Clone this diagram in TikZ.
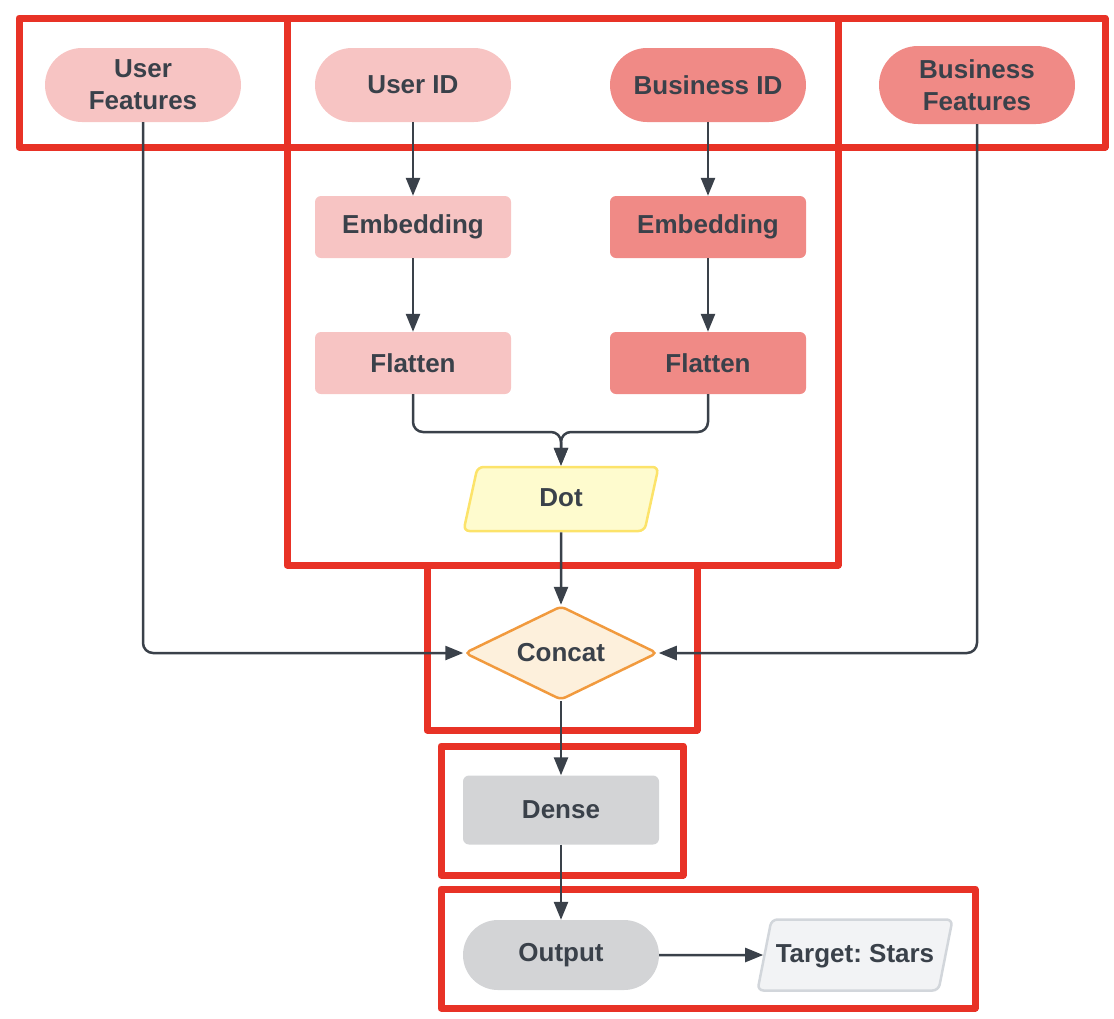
\documentclass[tikz,border=0pt]{standalone}
\usepackage{fontspec}
\setmainfont{Liberation Sans}
\usepackage{tikz}
\usetikzlibrary{shapes.geometric,arrows.meta}

\definecolor{ink}{HTML}{3A414A}
\definecolor{frame}{HTML}{E83226}
\definecolor{pinklight}{HTML}{F7C4C3}
\definecolor{pinkdark}{HTML}{F08A86}
\definecolor{dotfill}{HTML}{FEFBCE}
\definecolor{dotline}{HTML}{FCE36A}
\definecolor{catfill}{HTML}{FDF0DC}
\definecolor{catline}{HTML}{F19A3E}
\definecolor{grayfill}{HTML}{D3D4D6}
\definecolor{tgtfill}{HTML}{F2F3F5}
\definecolor{tgtline}{HTML}{D2D6DB}

\frenchspacing

\begin{document}
\begin{tikzpicture}[x=1pt,y=-1pt,
		every node/.style={font=\bfseries\fontsize{26}{32}\selectfont, text=ink, align=center},
		base/.style={minimum width=196pt, inner sep=0pt},
		pill/.style={base, rounded corners=37pt, minimum height=74pt},
		box/.style={base, rounded corners=6pt, minimum height=62pt},
		para/.style={trapezium, trapezium left angle=65, trapezium right angle=115,
			trapezium stretches body, minimum width=195pt, inner sep=2pt,
			text height=20pt, text depth=6pt,
			rounded corners=6pt, line width=2.5pt},
		arr/.style={line width=2.5pt, draw=ink, rounded corners=10pt,
			-{Triangle[length=18pt,width=14pt]}},
		redbox/.style={line width=7pt, draw=frame, line join=round}
	]
		\useasboundingbox (0,0) rectangle (1114,1018);

		% frames
		\draw[redbox] (19,18) rectangle (287,147);
		\draw[redbox] (287,18) rectangle (838,147);
		\draw[redbox] (287,147) rectangle (838,565);
		\draw[redbox] (838,18) rectangle (1105,147);
		\draw[redbox] (427,565) rectangle (697,730);
		\draw[redbox] (441,746) rectangle (683,875);
		\draw[redbox] (441,889) rectangle (975,1008);

		% inputs
		\node[pill, fill=pinklight] (uf) at (143,85) {User\\Features};
		\node[pill, fill=pinklight] (uid) at (413,85) {User ID};
		\node[pill, fill=pinkdark] (bid) at (708,85) {Business ID};
		\node[pill, fill=pinkdark, minimum height=78pt, rounded corners=39pt] (bf) at (977,85) {Business\\Features};

		% towers
		\node[box, fill=pinklight] (e1) at (413,227) {Embedding};
		\node[box, fill=pinklight] (f1) at (413,363) {Flatten};
		\node[box, fill=pinkdark] (e2) at (708,227) {Embedding};
		\node[box, fill=pinkdark] (f2) at (708,363) {Flatten};

		\node[para, fill=dotfill, draw=dotline, minimum height=64pt] (dot) at (561,499) {Dot};
		\node[diamond, aspect=2, minimum width=193pt, minimum height=94pt, inner sep=0pt,
			fill=catfill, draw=catline, line width=2.5pt, rounded corners=5pt] (cat) at (561,653) {Concat};
		\node[box, fill=grayfill, minimum height=69pt] (dense) at (561,810) {Dense};
		\node[pill, fill=grayfill, minimum height=70pt, rounded corners=35pt] (out) at (561,955) {Output};
		\node[para, fill=tgtfill, draw=tgtline, minimum height=71pt] (tgt) at (855,955) {Target: Stars};

		\coordinate (jn) at (561,432);

		% connectors
		\draw[arr] (uf.south) |- (cat.west);
		\draw[arr] (bf.south) |- (cat.east);
		\draw[arr] (uid) -- (e1);
		\draw[arr] (e1) -- (f1);
		\draw[arr] (bid) -- (e2);
		\draw[arr] (e2) -- (f2);
		\draw[arr] (f1.south) |- (jn) -- (dot.north);
		\draw[arr] (f2.south) |- (jn) -- (dot.north);
		\draw[arr] (dot) -- (cat);
		\draw[arr] (cat) -- (dense);
		\draw[arr] (dense) -- (out);
		\draw[arr] (out) -- (tgt.west);
	\end{tikzpicture}
\end{document}
